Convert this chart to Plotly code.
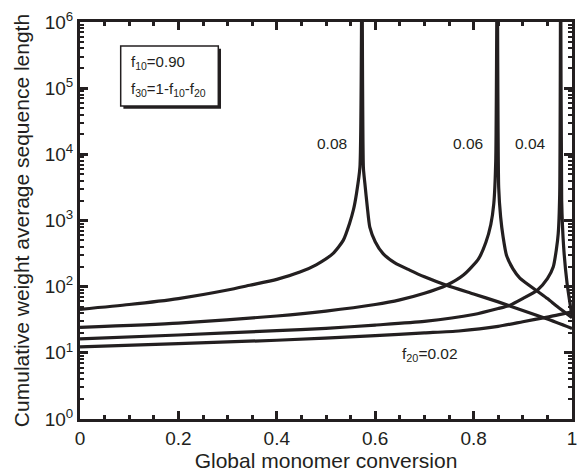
import plotly.graph_objects as go

# Global monomer conversion (x) and cumulative weight-average sequence length (y)
# for each f20 value; the left and right branches meet at the divergence point.
x_008 = [0.0, 0.1, 0.2, 0.3, 0.345, 0.4, 0.447, 0.48, 0.514, 0.535, 0.548, 0.556, 0.562, 0.569,
         0.573,
         0.576, 0.579, 0.584, 0.589, 0.6, 0.616, 0.64, 0.67, 0.70, 0.745, 0.8, 0.85, 0.9, 0.95, 1.0]
y_008 = [45.4, 53.7, 66.1, 89.1, 105, 129, 166, 214, 316, 501, 912, 1479, 2570, 6460,
         1e7,
         6310, 3630, 1585, 794, 479, 316, 229, 178, 141, 105, 77.6, 58.9, 43.7, 32.4, 23.4]

x_006 = [0.0, 0.2, 0.4, 0.5, 0.6, 0.65, 0.7, 0.745, 0.78, 0.81, 0.825, 0.835, 0.841, 0.845,
         0.848,
         0.851, 0.855, 0.86, 0.867, 0.88, 0.894, 0.93, 0.95, 0.97, 1.0]
y_006 = [24.3, 28.2, 36.0, 42.7, 53.7, 63.1, 79.4, 105, 151, 263, 468, 871, 1780, 7940,
         1e7,
         3160, 1120, 562, 295, 186, 135, 85.1, 66.1, 50.1, 33.9]

x_004 = [0.0, 0.2, 0.4, 0.5, 0.6, 0.7, 0.8, 0.85, 0.874, 0.9, 0.93, 0.95, 0.962, 0.968, 0.972, 0.975,
         0.977,
         0.979, 0.983, 0.99, 1.0]
y_004 = [16.2, 18.6, 21.6, 23.4, 26.3, 29.9, 38.0, 46.8, 52.5, 66.1, 89.1, 132, 200, 355, 631, 2510,
         1e7,
         2000, 398, 112, 35.5]

x_002 = [0.0, 0.2, 0.4, 0.6, 0.7, 0.77, 0.85, 0.9, 0.95, 1.0]
y_002 = [12.3, 13.8, 15.5, 18.2, 20.0, 21.4, 25.1, 29.5, 34.7, 41.7]

series = [(x_008, y_008), (x_006, y_006), (x_004, y_004), (x_002, y_002)]

# Curve labels: (text, x, log10 y)
curve_labels = [("0.08", 0.512, 4.17), ("0.06", 0.788, 4.17), ("0.04", 0.915, 4.17),
                ("f<sub>20</sub>=0.02", 0.712, 0.98)]

x_tickvals = [0, 0.2, 0.4, 0.6, 0.8, 1.0]
x_ticktext = ["0", "0.2", "0.4", "0.6", "0.8", "1"]
y_tickvals = [1, 10, 100, 1e3, 1e4, 1e5, 1e6]
y_ticktext = ["10<sup>%d</sup>" % i for i in range(7)]

INK = "#231f20"
FONT = "Liberation Sans, Arial, sans-serif"

fig = go.Figure()
for xs, ys in series:
    fig.add_trace(go.Scatter(x=xs, y=ys, mode="lines",
                             line=dict(color=INK, width=3.2, shape="spline", smoothing=0.6),
                             showlegend=False, hoverinfo="skip"))

axis_common = dict(
    showline=True, linewidth=3, linecolor=INK, mirror="ticks",
    ticks="inside", ticklen=8, tickwidth=2.5, tickcolor=INK,
    showgrid=False, zeroline=False,
    tickfont=dict(family=FONT, size=19, color=INK),
    ticklabeloverflow="allow",
)

fig.update_xaxes(range=[0, 1], tickvals=x_tickvals, ticktext=x_ticktext,
                 minor=dict(ticks="inside", ticklen=4, tickwidth=2.5, tickcolor=INK, dtick=0.05),
                 title=dict(text="Global monomer conversion",
                            font=dict(family=FONT, size=21, color=INK), standoff=6),
                 **axis_common)
fig.update_yaxes(type="log", range=[0, 6], tickvals=y_tickvals, ticktext=y_ticktext,
                 minor=dict(ticks="inside", ticklen=4, tickwidth=2, tickcolor=INK, dtick="D1"),
                 title=dict(text="Cumulative weight average sequence length",
                            font=dict(family=FONT, size=21, color=INK), standoff=10),
                 **axis_common)

# Parameter box with a drop shadow
bx0, bx1, by0, by1 = 0.0827, 0.2811, 0.7884, 0.9395
dx, dy = 0.0055, 0.0068
fig.add_shape(type="rect", xref="paper", yref="paper",
              x0=bx0 + dx, x1=bx1 + dx, y0=by0 - dy, y1=by1 - dy,
              fillcolor=INK, line=dict(width=0))
fig.add_shape(type="rect", xref="paper", yref="paper",
              x0=bx0, x1=bx1, y0=by0, y1=by1,
              fillcolor="white", line=dict(color=INK, width=1.5))
fig.add_annotation(xref="paper", yref="paper", x=0.0996, y=0.8992, xanchor="left", yanchor="middle",
                   text="f<sub>10</sub>=0.90", showarrow=False,
                   font=dict(family=FONT, size=15, color=INK))
fig.add_annotation(xref="paper", yref="paper", x=0.0996, y=0.8312, xanchor="left", yanchor="middle",
                   text="f<sub>30</sub>=1-f<sub>10</sub>-f<sub>20</sub>", showarrow=False,
                   font=dict(family=FONT, size=15, color=INK))

for text, lx, ly in curve_labels:
    fig.add_annotation(x=lx, y=ly, xref="x", yref="y", text=text, showarrow=False,
                       xanchor="center", yanchor="middle",
                       font=dict(family=FONT, size=15.5, color=INK))

fig.update_layout(width=577, height=476,
                  margin=dict(l=80, r=5, t=22, b=57, autoexpand=False),
                  paper_bgcolor="white", plot_bgcolor="white")

fig.write_html("out.html")
